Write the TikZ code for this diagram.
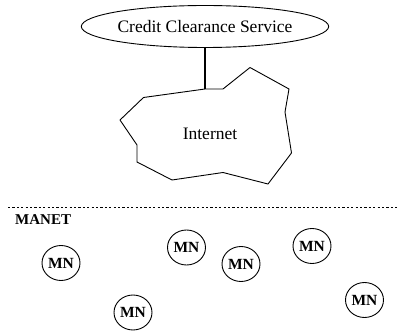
\documentclass[tikz,border=0pt]{standalone}
\usepackage{fontspec}
\setmainfont{Liberation Serif}
\usetikzlibrary{shapes.geometric}
\begin{document}
\begin{tikzpicture}[x=1pt,y=-1pt,
  mnnode/.style={draw,ellipse,line width=0.9pt,minimum width=38pt,minimum height=35pt,inner sep=0pt,font=\fontsize{15.5}{16}\selectfont\bfseries},
  svcnode/.style={draw,ellipse,line width=0.9pt,minimum width=220pt,minimum height=42pt,inner sep=0pt,font=\fontsize{17.5}{18}\selectfont},
  cloudline/.style={line width=0.9pt,line join=round},
  linkline/.style={line width=1.6pt},
  sepline/.style={line width=0.9pt,dash pattern=on 2.2pt off 2.2pt}]
\useasboundingbox (0,0) rectangle (399,331);
\node[svcnode] (ccs) at (205,26.5) {Credit Clearance Service};
\coordinate (inettop) at (205,89);
\draw[cloudline] (inettop) -- (223,89) -- (250,67.5) -- (289,89) -- (285,112) -- (291.5,153) -- (268,184) -- (223,172.5) -- (172,180) -- (137,162) -- (137,145) -- (120,120) -- (143.5,97.5) -- cycle;
\node[font=\fontsize{17.5}{18}\selectfont] (inet) at (210,134) {Internet};
\draw[linkline] (ccs.south) -- (inettop);
\coordinate (sepl) at (8,207.5);
\coordinate (sepr) at (399,207.5);
\draw[sepline] (sepl) -- (sepr);
\node[anchor=base west,inner sep=0pt,font=\fontsize{15}{16}\selectfont\bfseries] (manet) at (15,225) {MANET};
\node[mnnode] (mn1) at (61,263) {MN};
\node[mnnode] (mn2) at (133,312.5) {MN};
\node[mnnode] (mn3) at (186.5,247.5) {MN};
\node[mnnode] (mn4) at (241,264) {MN};
\node[mnnode] (mn5) at (312,246) {MN};
\node[mnnode] (mn6) at (364.5,300) {MN};
\end{tikzpicture}
\end{document}
